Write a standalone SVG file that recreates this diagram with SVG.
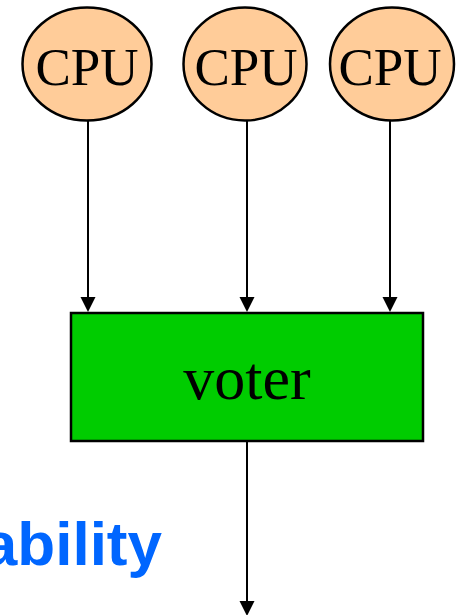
<svg xmlns="http://www.w3.org/2000/svg" width="457" height="615" viewBox="0 0 457 615">
<defs>
<style>
.cpu{fill:#FFCC99;stroke:#000;stroke-width:2.5}
.lbl{font-family:"Liberation Serif","Times New Roman",serif;fill:#000;text-anchor:middle}
.edge{stroke:#000;stroke-width:2;fill:none}
.head{fill:#000}
</style>
</defs>
<rect width="457" height="615" fill="#fff"/>
<g id="cpu1">
<ellipse class="cpu" cx="87" cy="64" rx="64.5" ry="56.5"/>
<text class="lbl" x="87" y="85" font-size="53">CPU</text>
</g>
<g id="cpu2">
<ellipse class="cpu" cx="245" cy="64" rx="61.5" ry="56.5"/>
<text class="lbl" x="246" y="85" font-size="53">CPU</text>
</g>
<g id="cpu3">
<ellipse class="cpu" cx="392" cy="64" rx="62" ry="56.5"/>
<text class="lbl" x="390" y="85" font-size="53">CPU</text>
</g>
<g id="voter">
<rect x="71" y="313" width="352" height="128" fill="#00CC00" stroke="#000" stroke-width="2.5"/>
<text class="lbl" x="247" y="399" font-size="62">voter</text>
</g>
<g id="label">
<text x="162" y="565" font-family="'Liberation Sans',Arial,sans-serif" font-weight="bold" font-size="62" fill="#0066FF" text-anchor="end">ability</text>
</g>
<g id="connectors">
<line class="edge" x1="88" y1="121" x2="88" y2="298"/>
<polygon class="head" points="80.5,297 95.5,297 88,312"/>
<line class="edge" x1="247" y1="121" x2="247" y2="298"/>
<polygon class="head" points="239.5,297 254.5,297 247,312"/>
<line class="edge" x1="390" y1="121" x2="390" y2="298"/>
<polygon class="head" points="382.5,297 397.5,297 390,312"/>
<line class="edge" x1="247" y1="442" x2="247" y2="602"/>
<polygon class="head" points="239.5,601 254.5,601 247,616"/>
</g>
</svg>
